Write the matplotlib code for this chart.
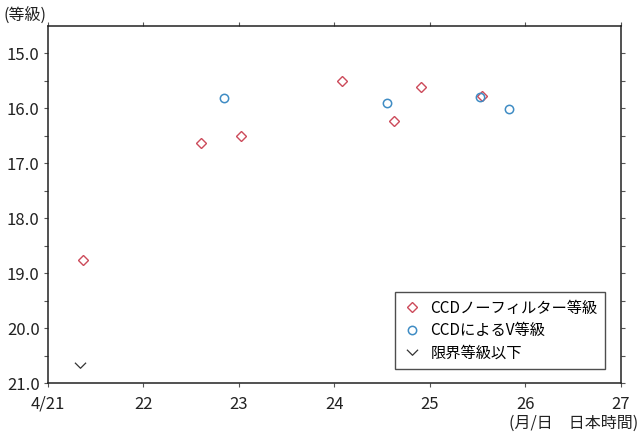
import matplotlib
matplotlib.use("Agg")
import matplotlib.pyplot as plt
from matplotlib.path import Path

plt.rcParams["font.family"] = ["Noto Sans CJK JP", "DejaVu Sans"]

# CCD unfiltered magnitudes (red diamonds)
NOFILTER_DAY = [21.37, 22.60, 23.02, 24.08, 24.62, 24.91, 25.55]
NOFILTER_MAG = [18.75, 16.64, 16.51, 15.51, 16.23, 15.62, 15.78]

# CCD V magnitudes (blue circles)
V_DAY = [22.84, 24.55, 25.52, 25.83]
V_MAG = [15.81, 15.91, 15.79, 16.01]

# upper limits (fainter than)
LIMIT_DAY = [21.33]
LIMIT_MAG = [20.67]

X_TICKS = [21, 22, 23, 24, 25, 26, 27]
X_LABELS = ["4/21", "22", "23", "24", "25", "26", "27"]
Y_TICKS = [15, 16, 17, 18, 19, 20, 21]

RED = "#cc4a5a"
BLUE = "#3f8cc4"
DARK = "#333333"

chevron = Path([(-1.0, 0.5), (0.0, -0.5), (1.0, 0.5)],
               [Path.MOVETO, Path.LINETO, Path.LINETO])

fig = plt.figure(figsize=(6.4, 4.37), dpi=100)
ax = fig.add_axes([0.075, 0.123, 0.895, 0.818])

ax.plot(NOFILTER_DAY, NOFILTER_MAG, linestyle="none", marker="D", markersize=5,
        markerfacecolor="none", markeredgecolor=RED, markeredgewidth=1.0,
        label="CCDノーフィルター等級")
ax.plot(V_DAY, V_MAG, linestyle="none", marker="o", markersize=6,
        markerfacecolor="none", markeredgecolor=BLUE, markeredgewidth=1.1,
        label="CCDによるV等級")
ax.plot(LIMIT_DAY, LIMIT_MAG, linestyle="none", marker=chevron, markersize=8,
        markerfacecolor="none", markeredgecolor=DARK, markeredgewidth=0.9,
        label="限界等級以下")

ax.set_xlim(21, 27)
ax.set_ylim(21, 14.5)
ax.set_xticks(X_TICKS)
ax.set_xticklabels(X_LABELS)
ax.set_yticks(Y_TICKS)
ax.set_yticklabels([f"{v:.1f}" for v in Y_TICKS])
ax.set_yticks([15.5, 16.5, 17.5, 18.5, 19.5, 20.5], minor=True)

ax.tick_params(axis="both", which="both", direction="out", length=3,
               width=0.8, color="#555555", labelsize=12, labelcolor="#222222",
               top=True, right=True, labeltop=False, labelright=False)
ax.tick_params(axis="x", pad=6)
ax.tick_params(axis="y", pad=3)
for sp in ax.spines.values():
    sp.set_linewidth(1.1)
    sp.set_color("#222222")

leg = ax.legend(loc="lower right", bbox_to_anchor=(0.973, 0.04), fontsize=11,
                frameon=True, fancybox=False, edgecolor="#222222",
                borderpad=0.5, handletextpad=0.6, labelspacing=0.35,
                handlelength=1.2, borderaxespad=0)
leg.get_frame().set_linewidth(1.0)

fig.text(0.005, 0.985, "(等級)", ha="left", va="top", fontsize=11.5,
         color="#222222")
fig.text(0.997, 0.012, "(月/日　日本時間)", ha="right", va="bottom",
         fontsize=11.5, color="#222222")

fig.savefig("out.png", dpi=100)
